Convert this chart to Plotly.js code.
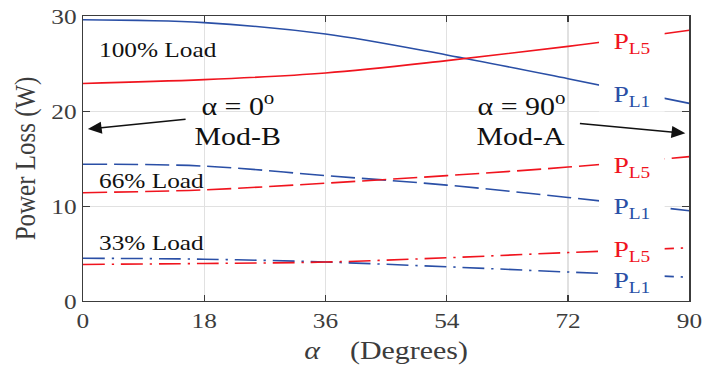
<!DOCTYPE html>
<html>
<head>
<meta charset="utf-8">
<script src="https://cdn.plot.ly/plotly-3.0.1.min.js"></script>
<style>
html, body { margin:0; padding:0; overflow:hidden; background:#ffffff; }
#plot { width:623px; height:376px; transform: scaleX(1.15088); transform-origin: 0 0; }
</style>
</head>
<body>
<div id="plot"></div>
<script>
// alpha (degrees)
const alpha = [0, 18, 36, 54, 72, 90];
// Power loss (W)
const pl1_100 = [29.6, 29.3, 28.1, 25.9, 23.4, 20.8];
const pl5_100 = [22.9, 23.3, 24.0, 25.3, 26.8, 28.5];
const pl1_66  = [14.4, 14.2, 13.2, 12.2, 10.9, 9.5];
const pl5_66  = [11.4, 11.7, 12.4, 13.2, 14.1, 15.2];
const pl1_33  = [4.5, 4.4, 4.1, 3.6, 3.05, 2.5];
const pl5_33  = [3.85, 3.95, 4.1, 4.55, 5.1, 5.6];

const xTicks = [0, 18, 36, 54, 72, 90];
const yTicks = [0, 10, 20, 30];

const BLUE = '#2a4fa6';
const RED = '#f0141e';
const SERIF = 'Liberation Serif';

function line(y, color, dash) {
  return { x: alpha, y: y, type: 'scatter', mode: 'lines',
           line: { color: color, width: 1.6, dash: dash, shape: 'spline', smoothing: 1 },
           hoverinfo: 'skip', showlegend: false };
}
const DASH = '21px,6px';
const DASHDOT = '19px,6px,2px,6px';

const data = [
  line(pl1_100, BLUE, 'solid'),
  line(pl5_100, RED, 'solid'),
  line(pl1_66, BLUE, DASH),
  line(pl5_66, RED, DASH),
  line(pl1_33, BLUE, DASHDOT),
  line(pl5_33, RED, DASHDOT)
];

function txt(x, y, text, size, color, xanchor) {
  return { x: x, y: y, xref: 'x', yref: 'y', text: text, showarrow: false,
           xanchor: xanchor || 'center', yanchor: 'middle',
           font: { family: SERIF, size: size, color: color || '#111111' } };
}
function plabel(x, y, sub, color) {
  const a = txt(x, y, '\u00a0\u00a0P<sub>' + sub + '</sub>\u00a0\u00a0', 24, color);
  a.bgcolor = '#ffffff';
  a.borderpad = 0;
  return a;
}
function arrow(x, y, ax, ay) {
  return { x: x, y: y, ax: ax, ay: ay, xref: 'x', yref: 'y', axref: 'x', ayref: 'y',
           text: '', showarrow: true, arrowhead: 2, arrowsize: 1.6, arrowwidth: 1.5,
           arrowcolor: '#111111', standoff: 0, startstandoff: 0 };
}

const annotations = [
  txt(2.1, 26.5, '100% Load', 22, '#111111', 'left'),
  txt(2.1, 12.67, '66% Load', 22, '#111111', 'left'),
  txt(2.1, 6.13, '33% Load', 22, '#111111', 'left'),
  plabel(81.5, 27.2, 'L5', RED),
  plabel(81.5, 21.6, 'L1', BLUE),
  plabel(81.5, 14.15, 'L5', RED),
  plabel(81.5, 9.8, 'L1', BLUE),
  plabel(81.5, 5.25, 'L5', RED),
  plabel(81.5, 2.05, 'L1', BLUE),
  txt(22.9, 20.7, 'α = 0<sup>o</sup>', 26),
  txt(22.9, 17.35, 'Mod-B', 26),
  txt(65.0, 20.7, 'α = 90<sup>o</sup>', 26),
  txt(65.0, 17.35, 'Mod-A', 26),
  arrow(0.74, 18.1, 15.5, 19.15),
  arrow(89.4, 17.65, 73.5, 18.7)
];

const axisCommon = {
  ticks: 'inside', ticklen: 6, tickwidth: 1, tickcolor: '#3c3c3c',
  showline: true, linecolor: '#3c3c3c', linewidth: 1, mirror: 'ticks',
  showgrid: true, gridcolor: '#e1e1e1', gridwidth: 1, zeroline: false,
  tickfont: { family: SERIF, size: 22, color: '#3c3c3c' }
};

const layout = {
  width: 623, height: 376,
  margin: { l: 72, r: 24, t: 16, b: 75 },
  paper_bgcolor: '#ffffff', plot_bgcolor: '#ffffff',
  showlegend: false,
  font: { family: SERIF },
  xaxis: Object.assign({}, axisCommon, {
    range: [0, 90], tickmode: 'array', tickvals: xTicks, ticktext: xTicks.map(String),
    title: { text: '\u00a0\u00a0<i>α</i>\u00a0\u00a0\u00a0\u00a0(Degrees)', font: { family: SERIF, size: 26, color: '#3c3c3c' }, standoff: 8 }
  }),
  yaxis: Object.assign({}, axisCommon, {
    range: [0, 30], tickmode: 'array', tickvals: yTicks, ticktext: yTicks.map(String),
    title: { text: 'Power Loss (W)', font: { family: SERIF, size: 25, color: '#3c3c3c' }, standoff: 6 }
  }),
  annotations: annotations
};

Plotly.newPlot('plot', data, layout, { staticPlot: true, displayModeBar: false });
</script>
</body>
</html>
